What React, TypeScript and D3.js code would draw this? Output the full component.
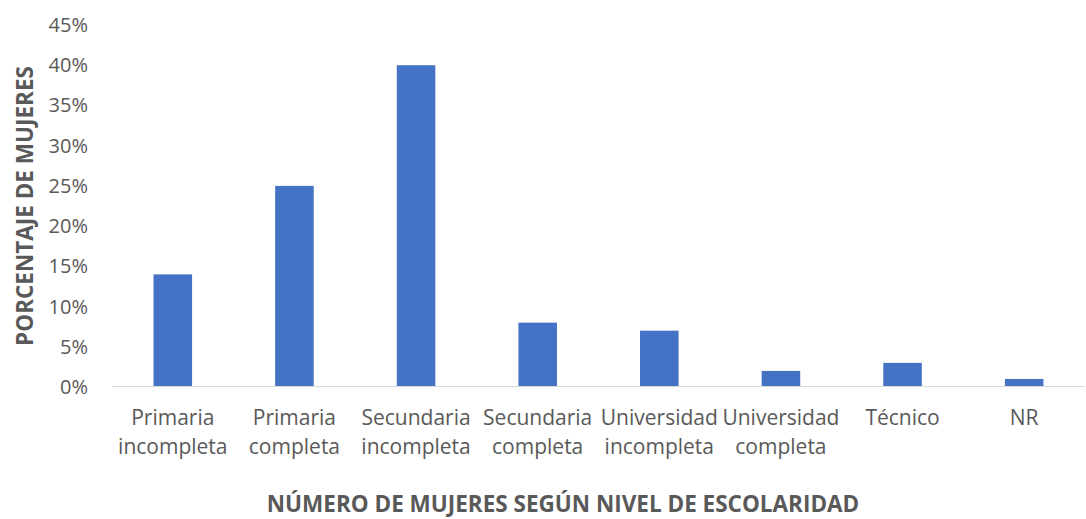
import React from 'react';
import * as d3 from 'd3';

const categories = [
  ['Primaria', 'incompleta'],
  ['Primaria', 'completa'],
  ['Secundaria', 'incompleta'],
  ['Secundaria', 'completa'],
  ['Universidad', 'incompleta'],
  ['Universidad', 'completa'],
  ['Técnico'],
  ['NR'],
];
const values = [0.14, 0.25, 0.40, 0.08, 0.07, 0.02, 0.03, 0.01];
const yTicks = [0, 0.05, 0.1, 0.15, 0.2, 0.25, 0.3, 0.35, 0.4, 0.45];

const W = 1086;
const H = 519;
const left = 112;
const right = 1085;
const top = 25;
const bottom = 387;
const textColor = '#595959';
const font = '"Open Sans", sans-serif';

export default function App() {
  const keys = categories.map((c) => c.join(' '));
  const x = d3.scaleBand<string>().domain(keys).range([left, right]).paddingInner(0.683).paddingOuter(0.3415);
  const y = d3.scaleLinear().domain([0, 0.45]).range([bottom, top]);
  const pct = d3.format('.0%');

  return (
    <svg width={W} height={H} style={{ position: 'absolute', left: 0, top: 0 }} fontFamily={font}>
      <rect width={W} height={H} fill="#fff" />
      {values.map((v, i) => (
        <rect
          key={i}
          x={x(keys[i])}
          y={y(v)}
          width={x.bandwidth()}
          height={y(0) - y(v)}
          fill="#4472C4"
        />
      ))}
      <line x1={left} x2={right} y1={bottom - 0.5} y2={bottom - 0.5} stroke="#D9D9D9" strokeWidth={1} />
      {yTicks.map((t) => (
        <text key={t} x={88} y={y(t)} dy="0.35em" textAnchor="end" fontSize={20} fill={textColor}>
          {pct(t)}
        </text>
      ))}
      {categories.map((lines, i) => {
        const cx = (x(keys[i]) as number) + x.bandwidth() / 2;
        return (
          <text key={i} x={cx} textAnchor="middle" fontSize={21} fill={textColor}>
            {lines.map((l, j) => (
              <tspan key={j} x={cx} y={425 + j * 29}>{l}</tspan>
            ))}
          </text>
        );
      })}
      <text
        transform={`translate(33, 206) rotate(-90)`}
        textAnchor="middle"
        fontSize={22.5}
        fontWeight="bold"
        fill={textColor}
      >
        PORCENTAJE DE MUJERES
      </text>
      <text x={563} y={512} textAnchor="middle" fontSize={22.5} fontWeight="bold" fill={textColor}>
        NÚMERO DE MUJERES SEGÚN NIVEL DE ESCOLARIDAD
      </text>
    </svg>
  );
}
